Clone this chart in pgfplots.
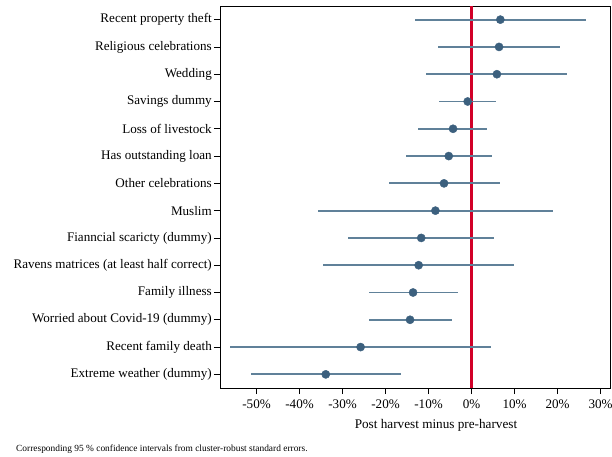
\documentclass[border=0pt]{standalone}
\usepackage{fontspec}
\setmainfont{Liberation Serif}
\usepackage{pgfplots}
\usepackage{pgfplotstable}
\pgfplotsset{compat=1.18}
\definecolor{mk}{RGB}{60,96,126}
\definecolor{ci}{RGB}{96,129,153}
\definecolor{zeroline}{RGB}{210,0,40}
\pgfplotstableread{
y est lo hi
1 6.7 -13.2 26.6
2 6.4 -7.8 20.5
3 5.9 -10.5 22.3
4 -0.9 -7.5 5.8
5 -4.3 -12.5 3.7
6 -5.3 -15.2 4.8
7 -6.4 -19.2 6.6
8 -8.4 -35.8 19.0
9 -11.7 -28.7 5.3
10 -12.3 -34.5 9.9
11 -13.6 -23.9 -3.2
12 -14.3 -23.8 -4.6
13 -25.8 -56.1 4.6
14 -33.9 -51.4 -16.3
}\coef
\pgfplotstableread{
x y
0 0.5
0 14.5
}\zero
\begin{document}
\begin{tikzpicture}
\path[use as bounding box] (0,0) rectangle (612bp,457bp);
\begin{axis}[
  at={(220bp,69bp)}, anchor=south west,
  width=390bp, height=382bp, scale only axis,
  xmin=-58.5, xmax=32.2,
  ymin=0.5, ymax=14.5, y dir=reverse,
  axis line style={line width=0.9bp},
  tick style={line width=0.8bp, black},
  tick align=outside, major tick length=6bp,
  xtick pos=bottom, ytick pos=left,
  xtick={-50,-40,-30,-20,-10,0,10,20,30},
  xticklabels={-50\%,-40\%,-30\%,-20\%,-10\%,0\%,10\%,20\%,30\%},
  ytick={1,...,14},
  yticklabels={Recent property theft,Religious celebrations,Wedding,Savings dummy,Loss of livestock,Has outstanding loan,Other celebrations,Muslim,Fianncial scaricty (dummy),Ravens matrices (at least half correct),Family illness,Worried about Covid-19 (dummy),Recent family death,Extreme weather (dummy)},
  ticklabel style={font=\fontsize{13.1bp}{15bp}\selectfont},
  yticklabel style={inner xsep=2bp},
  xticklabel style={yshift=-2bp},
  clip=false,
]
\addplot[draw=zeroline, solid, mark=none, line width=2.4bp] table[x=x, y=y] {\zero};
\addplot[only marks, mark=*, mark size=4.1bp, mk, mark options={fill=mk, draw=mk},
  error bars/.cd, x dir=both, x explicit, error mark=none,
  error bar style={ci, line width=1.8bp}]
  table[x=est, y=y, x error plus expr=\thisrow{hi}-\thisrow{est}, x error minus expr=\thisrow{est}-\thisrow{lo}] {\coef};
\end{axis}
\node[font=\fontsize{13.2bp}{15bp}\selectfont] at (436bp,32bp) {Post harvest minus pre-harvest};
\node[anchor=west, inner sep=0pt, font=\fontsize{9.4bp}{11bp}\selectfont] at (16bp,7.5bp) {Corresponding 95 \% confidence intervals from cluster-robust standard errors.};
\end{tikzpicture}
\end{document}
